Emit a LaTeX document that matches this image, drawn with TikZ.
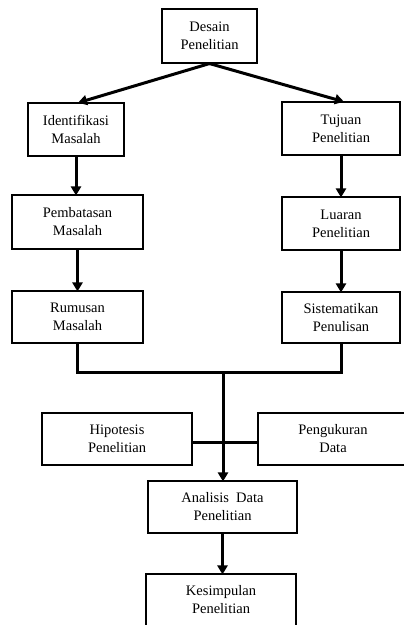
\documentclass[tikz,border=0pt]{standalone}
\usepackage{fontspec}
\setmainfont{Liberation Serif}
\usepackage{tikz}
\usetikzlibrary{arrows.meta, positioning, calc}

\begin{document}
\begin{tikzpicture}[x=1pt, y=-1pt,
    box/.style={draw, line width=1.1pt, inner sep=0pt, align=center,
                font=\fontsize{14.5}{18}\selectfont},
    link/.style={line width=3pt},
    arr/.style={line width=3pt, -{Triangle[length=9pt, width=10pt]}, shorten >=-1pt}]
    \useasboundingbox (0,0) rectangle (404,625);

    \node[box, minimum width=95pt, minimum height=54pt] (desain) at (209.5,36) {Desain\\Penelitian};

    \node[box, minimum width=96pt, minimum height=53pt] (identifikasi) at (76,129.5) {Identifikasi\\Masalah};
    \node[box, minimum width=131pt, minimum height=54pt] (pembatasan) at (77.5,222) {Pembatasan\\Masalah};
    \node[box, minimum width=131pt, minimum height=52pt] (rumusan) at (77.5,317) {Rumusan\\Masalah};

    \node[box, minimum width=118pt, minimum height=53pt] (tujuan) at (341,128.5) {Tujuan\\Penelitian};
    \node[box, minimum width=118pt, minimum height=53pt] (luaran) at (341,223.5) {Luaran\\Penelitian};
    \node[box, minimum width=118pt, minimum height=51pt] (sistematikan) at (341,317.5) {Sistematikan\\Penulisan};

    \node[box, minimum width=150pt, minimum height=52pt] (hipotesis) at (117,439) {Hipotesis\\Penelitian};
    \node[box, minimum width=150pt, minimum height=52pt] (pengukuran) at (333,439) {Pengukuran\\Data};
    \node[box, minimum width=149pt, minimum height=52pt] (analisis) at (222.5,507) {Analisis~ Data\\Penelitian};
    \node[box, minimum width=150pt, minimum height=52pt] (kesimpulan) at (221,600) {Kesimpulan\\Penelitian};

    \coordinate (merge) at (223,372);

    \draw[arr] (desain.south) -- ($(identifikasi.north)+(3,0)$);
    \draw[arr] (desain.south) -- ($(tujuan.north)+(2,0)$);

    \draw[arr] (identifikasi.south) -- (identifikasi.south |- pembatasan.north);
    \draw[arr] (pembatasan.south) -- (pembatasan.south |- rumusan.north);
    \draw[arr] (tujuan.south) -- (tujuan.south |- luaran.north);
    \draw[arr] (luaran.south) -- (luaran.south |- sistematikan.north);

    % merge of both branches
    \draw[link] (rumusan.south) |- (merge) -| (sistematikan.south);
    \draw[link] ($(hipotesis.east)+(0,3)$) -- ($(pengukuran.west)+(0,3)$);
    \draw[arr] (merge) -- (merge |- analisis.north);
    \draw[arr] (analisis.south) -- (analisis.south |- kesimpulan.north);
\end{tikzpicture}
\end{document}
